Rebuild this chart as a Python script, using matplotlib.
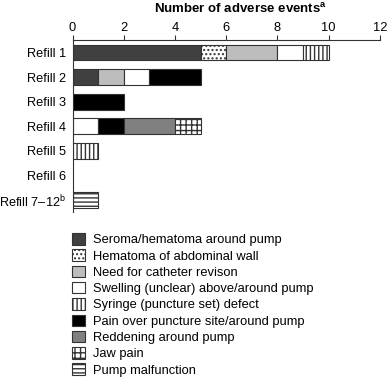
import numpy as np
import matplotlib
matplotlib.use('Agg')
import matplotlib.pyplot as plt

plt.rcParams['font.family'] = ['Liberation Sans', 'DejaVu Sans']
plt.rcParams['mathtext.fontset'] = 'custom'
plt.rcParams['mathtext.rm'] = 'Liberation Sans'
plt.rcParams['mathtext.bf'] = 'Liberation Sans:bold'
plt.rcParams['hatch.linewidth'] = 1.0

# Данные
refills = ['Refill 1', 'Refill 2', 'Refill 3', 'Refill 4', 'Refill 5', 'Refill 6',
           'Refill 7\u201312$^{\\rm b}$']
events = ['Seroma/hematoma around pump', 'Hematoma of abdominal wall',
          'Need for catheter revison', 'Swelling (unclear) above/around pump',
          'Syringe (puncture set) defect', 'Pain over puncture site/around pump',
          'Reddening around pump', 'Jaw pain', 'Pump malfunction']
seroma = [5, 1, 0, 0, 0, 0, 0]
hematoma = [1, 0, 0, 0, 0, 0, 0]
catheter = [2, 1, 0, 0, 0, 0, 0]
swelling = [1, 1, 0, 1, 0, 0, 0]
syringe = [1, 0, 0, 0, 1, 0, 0]
pain = [0, 2, 2, 1, 0, 0, 0]
reddening = [0, 0, 0, 2, 0, 0, 0]
jaw = [0, 0, 0, 1, 0, 0, 0]
pump = [0, 0, 0, 0, 0, 0, 1]
xticks = [0, 2, 4, 6, 8, 10, 12]

series = [seroma, hematoma, catheter, swelling, syringe, pain, reddening, jaw, pump]
colors = ['#404040', 'white', '#bdbdbd', 'white', 'white', 'black', '#808080', 'white', 'white']
hatches = [None, '....', None, None, '||||', None, None, '+++', '----']

fig = plt.figure(figsize=(3.88, 3.77), dpi=100)
ax = fig.add_axes([0.1869, 0.4377, 0.979 - 0.1869, 0.894 - 0.4377])

y = np.arange(len(refills))
left = np.zeros(len(refills))
handles = []
for vals, name, c, h in zip(series, events, colors, hatches):
    vals = np.array(vals, dtype=float)
    m = vals > 0
    b = ax.barh(y[m], vals[m], left=left[m], height=0.64, color=c, hatch=h,
                edgecolor='#333333', linewidth=0.8, label=name)
    handles.append(b)
    left += vals

ax.set_xlim(0, 12)
ax.set_ylim(6.48, -0.51)
ax.set_xticks(xticks)
ax.xaxis.tick_top()
fig.text(240 / 388, 1 - 9 / 377, 'Number of adverse events$^{\\bf a}$', fontsize=9.5,
         fontweight='bold', ha='center', va='center')
ax.set_yticks(y)
ax.set_yticklabels(refills)
ax.tick_params(axis='x', length=3.6, width=0.8, labelsize=9.3, pad=1.0, color='#333333')
ax.tick_params(axis='y', length=0, labelsize=9.2, pad=4.5)
for s in ['right', 'bottom']:
    ax.spines[s].set_visible(False)
for s in ['top', 'left']:
    ax.spines[s].set_linewidth(0.8)
    ax.spines[s].set_color('#333333')

fig.legend(handles=handles, loc='upper left', bbox_to_anchor=(72 / 388, 1 - 233 / 377),
           frameon=False, fontsize=9.3, handlelength=1.0, handleheight=1.0,
           handletextpad=0.65, labelspacing=0.24, borderpad=0, borderaxespad=0)

fig.savefig('out.png', dpi=100)
